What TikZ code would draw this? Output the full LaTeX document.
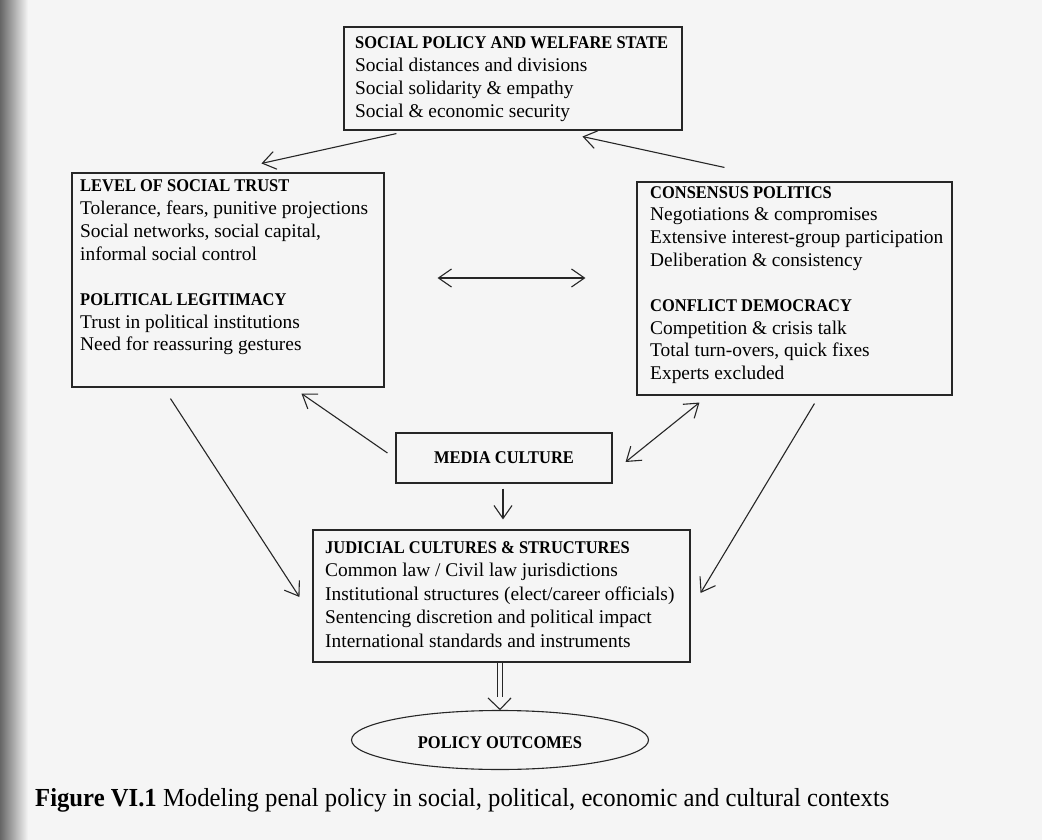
\documentclass[tikz,border=0pt]{standalone}
\usepackage{fontspec}
\usepackage{graphicx}
\setmainfont{Liberation Serif}
\usetikzlibrary{arrows.meta,shapes.geometric}
\tikzset{
  boxframe/.style={draw=black!85, line width=1.1pt, rectangle, inner sep=0pt},
  boxtext/.style={anchor=base west, inner sep=0pt, font=\fontsize{19.4}{22.7}\selectfont},
  conn/.style={draw=black!85, line width=1.1pt, -{Straight Barb[length=13pt,width=18pt,line width=1.1pt]}},
  conn2/.style={draw=black!85, line width=1.1pt, {Straight Barb[length=13pt,width=18pt,line width=1.1pt]}-{Straight Barb[length=13pt,width=18pt,line width=1.1pt]}},
}
\newcommand{\hd}[1]{\scalebox{0.92}[1]{\fontsize{17.9}{22.7}\selectfont\bfseries #1}}
\begin{document}
\begin{tikzpicture}[x=1pt,y=-1pt]
\useasboundingbox (0,0) rectangle (1042,840);
\fill[black!4] (0,0) rectangle (1042,840);
\shade[left color=black!60, right color=black!4] (0,0) rectangle (28,840);

% boxes
\node[boxframe, minimum width=338pt, minimum height=103pt] (top) at (513,78.5) {};
\node[boxframe, minimum width=312pt, minimum height=214pt] (trust) at (228,280) {};
\node[boxframe, minimum width=315pt, minimum height=213pt] (cons) at (794.5,288.5) {};
\node[boxframe, minimum width=216pt, minimum height=50pt] (media) at (504,458) {};
\node[boxframe, minimum width=377pt, minimum height=132pt] (jud) at (501.5,596) {};
\node[draw=black!85, line width=1.1pt, ellipse, minimum width=297pt, minimum height=59pt, inner sep=0pt] (out) at (500,740) {};

% texts
\node[boxtext] (toptxt) at (355,49) {\begin{tabular}[t]{@{}l@{}}
\hd{SOCIAL POLICY AND WELFARE STATE}\\
Social distances and divisions\\
Social solidarity \& empathy\\
Social \& economic security
\end{tabular}};

\node[boxtext] (trusttxt) at (80,192) {\begin{tabular}[t]{@{}l@{}}
\hd{LEVEL OF SOCIAL TRUST}\\
Tolerance, fears, punitive projections\\
Social networks, social capital,\\
informal social control\\[22.7pt]
\hd{POLITICAL LEGITIMACY}\\
Trust in political institutions\\
Need for reassuring gestures
\end{tabular}};

\node[boxtext] (constxt) at (650,198) {\begin{tabular}[t]{@{}l@{}}
\hd{CONSENSUS POLITICS}\\
Negotiations \& compromises\\
Extensive interest-group participation\\
Deliberation \& consistency\\[22.7pt]
\hd{CONFLICT DEMOCRACY}\\
Competition \& crisis talk\\
Total turn-overs, quick fixes\\
Experts excluded
\end{tabular}};

\node[anchor=base, inner sep=0pt] (mediatxt) at (504,463) {\hd{MEDIA CULTURE}};

\node[boxtext, font=\fontsize{19.4}{23.5}\selectfont] (judtxt) at (325,553) {\begin{tabular}[t]{@{}l@{}}
\hd{JUDICIAL CULTURES \& STRUCTURES}\\
Common law / Civil law jurisdictions\\
Institutional structures (elect/career officials)\\
Sentencing discretion and political impact\\
International standards and instruments
\end{tabular}};

\node[anchor=base, inner sep=0pt] (outtxt) at (500,748) {\hd{POLICY OUTCOMES}};

% caption
\node[anchor=base west, inner sep=0pt, font=\fontsize{26}{30}\selectfont, xscale=0.95] (caption) at (35,806)
  {\textbf{Figure VI.1} Modeling penal policy in social, political, economic and cultural contexts};

% connectors
\draw[conn] ([shift={(53,3)}]top.south west) -- ([shift={(190,-9)}]trust.north west);
\draw[conn] ([shift={(88,-14)}]cons.north west) -- ([shift={(239,6)}]top.south west);
\draw[conn2] ([shift={(53,-2)}]trust.east) -- ([shift={(-51,-10.5)}]cons.west);
\draw[conn] ([shift={(-8,-5)}]media.west) -- ([shift={(230,6)}]trust.south west);
\draw[conn] ([shift={(99,11)}]trust.south west) -- ([shift={(-13,1)}]jud.west);
\draw[conn2] ([shift={(63,7)}]cons.south west) -- ([shift={(13,4)}]media.east);
\draw[conn] ([shift={(178,8)}]cons.south west) -- ([shift={(10,-3)}]jud.east);
\draw[conn] ([shift={(-1,5)}]media.south) -- ([shift={(1.5,-10)}]jud.north);
\draw[draw=black!85, line width=1pt, double=black!4, double distance=4.5pt]
  ([xshift=-1.5pt]jud.south) -- ([shift={(0,-13)}]out.north);
\draw[draw=black!85, line width=1.1pt] ([shift={(-12,-12)}]out.north) -- ([shift={(0,-0.5)}]out.north) coordinate (tipo)
  -- ([shift={(11,-12)}]out.north);
\end{tikzpicture}
\end{document}
